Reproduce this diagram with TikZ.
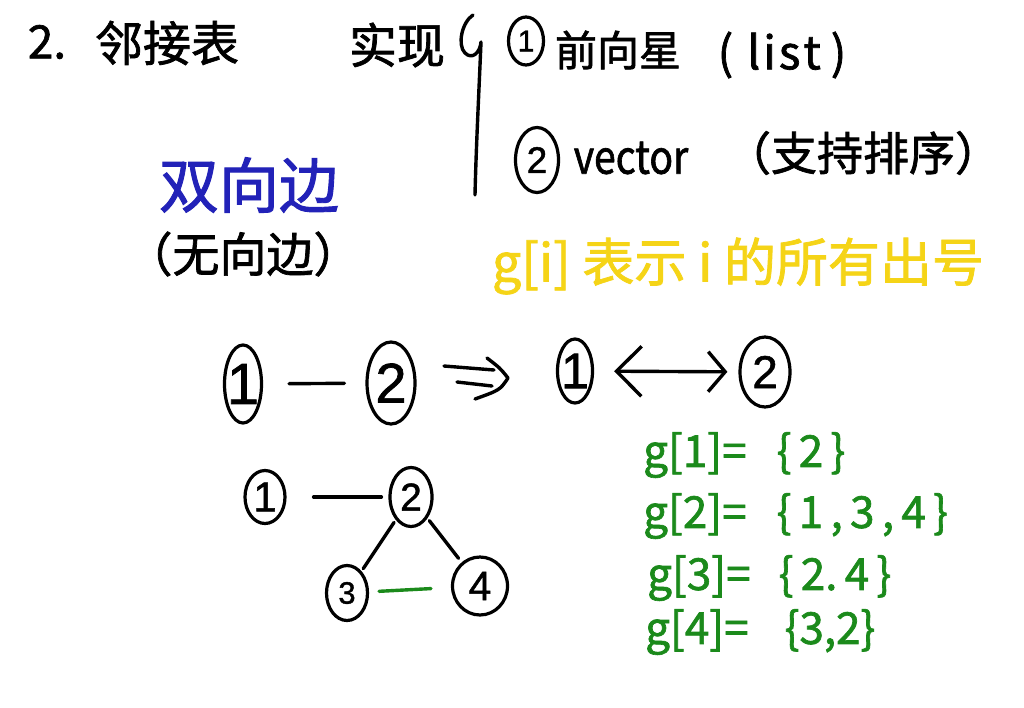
\documentclass[tikz,border=0pt]{standalone}
\usepackage{fontspec}
\usepackage{graphicx}
\setmainfont{Noto Sans CJK SC}[FakeBold=1.5]
\newfontfamily\digitfont{Liberation Sans}[FakeBold=1.2]
\usetikzlibrary{shapes.geometric,arrows.meta}
\newcommand\fsz[1]{\fontsize{#1}{#1}\selectfont}
\newcommand\slim[1]{\makebox[10pt]{#1}}
\definecolor{myblue}{HTML}{2222B8}
\definecolor{myyellow}{HTML}{F5D417}
\definecolor{mygreen}{HTML}{1B8A1B}
\begin{document}
\begin{tikzpicture}[x=1pt,y=-1pt,
  ink/.style={line width=3.4pt,line cap=round,line join=round},
  cnum/.style={ellipse,draw,line width=3.2pt,inner sep=0pt},
  txt/.style={inner sep=0pt,anchor=center},
  gtxt/.style={inner sep=0pt,anchor=west,font=\fsz{44},text=mygreen}]
\useasboundingbox[fill=white] (0,0) rectangle (1024,707);
% title line
\node[txt,font=\fsz{46}] (num2) at (47,42) {2.};
\node[txt,font=\fsz{48}] (title) at (167,43) {邻接表};
\node[txt,font=\fsz{48}] (impl) at (397,45) {实现};
\coordinate (brtop) at (473,15);
\coordinate (brbot) at (475,195);
\draw[ink] (brtop) .. controls (462,22) and (457,45) .. (465,53)
  .. controls (472,60) and (480,53) .. (481,42)
  .. controls (479,90) and (476,150) .. (brbot);
\node[cnum,minimum width=35pt,minimum height=48pt,font=\digitfont\fsz{30}] (c1) at (526,41) {\slim{1}};
\node[txt,font=\fsz{42}] (fwd) at (618,50) {前向星};
\node[txt,font=\fsz{46}] (list) at (782,55) {(\hspace{14pt}l\hspace{3pt}i\hspace{3pt}s\hspace{3pt}t\hspace{10pt})};
\node[cnum,minimum width=43pt,minimum height=65pt,font=\digitfont\fsz{37}] (c2) at (537,160) {2};
\node[txt,font=\fsz{46}] (vec) at (631,158) {\scalebox{0.85}[1]{vector}};
\node[txt,font=\fsz{46}] (sort) at (863,153) {（支持排序）};
% left notes
\node[txt,font=\fsz{60},text=myblue] (bi) at (249,185) {双向边};
\node[txt,font=\fsz{47}] (undir) at (243,254) {（无向边）};
% yellow note
\node[txt,font=\fsz{52},text=myyellow] (gi) at (738,266) {g[i] 表示 i 的所有出号};
% first row
\node[cnum,minimum width=37pt,minimum height=78pt,font=\digitfont\fsz{58}] (a1) at (243,384) {\slim{1}};
\node[cnum,minimum width=48pt,minimum height=82pt,font=\digitfont\fsz{56}] (a2) at (391,383) {\slim{2}};
\draw[ink,shorten <=26pt,shorten >=21pt] (a1) -- (a2);
\coordinate (i1s) at (444,366); \coordinate (i1e) at (494,370);
\coordinate (i2s) at (457,382); \coordinate (i2e) at (492,386);
\coordinate (ih1) at (487,358); \coordinate (ih2) at (508,378); \coordinate (ih3) at (475,399);
\draw[ink] (i1s) -- (i1e);
\draw[ink] (i2s) -- (i2e);
\draw[ink] (ih1) .. controls (500,368) .. (ih2) .. controls (500,390) .. (ih3);
\node[cnum,minimum width=35pt,minimum height=64pt,font=\digitfont\fsz{50}] (b1) at (575,371) {\slim{1}};
\node[cnum,minimum width=50pt,minimum height=70pt,font=\digitfont\fsz{46}] (b2) at (765,372) {2};
\draw[ink,{Straight Barb[length=25pt,width=50pt]}-{Straight Barb[length=17pt,width=40pt]},shorten <=20pt,shorten >=11pt] (b1) -- (b2);
% lower graph
\node[cnum,minimum width=40pt,minimum height=53pt,font=\digitfont\fsz{42}] (n1) at (265,497) {\slim{1}};
\node[cnum,minimum width=42pt,minimum height=59pt,font=\digitfont\fsz{39}] (n2) at (411,497) {2};
\node[cnum,minimum width=41pt,minimum height=55pt,font=\digitfont\fsz{31}] (n3) at (347,593) {3};
\node[cnum,minimum width=55pt,minimum height=58pt,font=\digitfont\fsz{41}] (n4) at (480,586) {4};
\draw[ink,shorten <=27pt,shorten >=7pt] (n1) -- (n2);
\draw[ink,shorten <=3pt,shorten >=3pt] (n2) -- (n3);
\draw[ink,shorten <=3pt,shorten >=5pt] (n2) -- (n4);
\draw[ink,mygreen,shorten <=10pt,shorten >=20pt] (n3) -- (n4);
% green lists
\node[gtxt] (g1) at (643,455) {g[1]=\hspace{30pt}\{\,2\,\}};
\node[gtxt] (g2) at (643,516) {g[2]=\hspace{30pt}\{\,1\,,\,3\,,\,4\,\}};
\node[gtxt] (g3) at (647,578) {g[3]=\hspace{28pt}\{\,2.\,4\,\}};
\node[gtxt] (g4) at (645,632) {g[4]=\hspace{36pt}\{3,2\}};
\end{tikzpicture}
\end{document}
